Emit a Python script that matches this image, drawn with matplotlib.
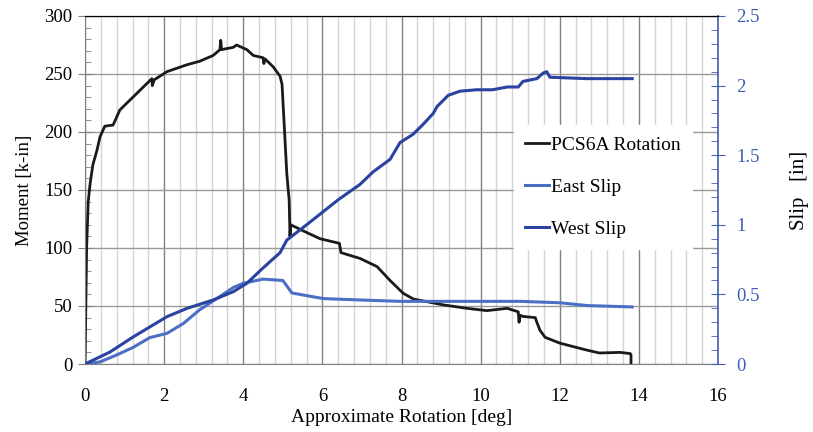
import matplotlib
matplotlib.use("Agg")
import matplotlib.pyplot as plt
from matplotlib.ticker import MultipleLocator, FormatStrFormatter

plt.rcParams['font.family'] = ['Liberation Serif', 'DejaVu Serif']

# PCS6A rotation: moment [k-in] vs rotation [deg]
rot_x = [0, 0.02, 0.04, 0.08, 0.13, 0.2, 0.3, 0.38, 0.5, 0.71, 0.88, 1.21,
         1.57, 1.69, 1.7, 1.75, 2.07, 2.58, 2.9, 3.24, 3.41, 3.43, 3.45,
         3.75, 3.83, 4.09, 4.25, 4.5, 4.52, 4.55, 4.76, 4.93, 4.98, 5.1,
         5.16, 5.18, 5.2, 5.5, 5.94, 6.43, 6.47, 6.95, 7.38, 7.71, 8.04,
         8.3, 9.05, 9.65, 10.16, 10.67, 10.95, 10.97, 11.0, 11.07, 11.38,
         11.42, 11.5, 11.63, 12.0, 12.68, 13.0, 13.52, 13.78, 13.8, 13.8]
moment = [0, 50, 100, 140, 156, 172, 184, 196, 205, 206, 219, 230,
          242, 246, 240, 245, 252, 258, 261, 266, 271, 279, 271,
          273, 275, 271, 266, 264, 259, 263, 256, 248, 241, 164,
          141, 110, 120, 115, 108, 104, 96, 91, 84, 72, 61,
          56, 51, 48, 46, 48, 45, 36, 42, 41, 40,
          36, 29, 23, 18, 12, 9.5, 10, 9, 8, 0]

# East slip [in]
east_x = [0, 0.38, 0.8, 1.22, 1.64, 2.07, 2.48, 2.9, 3.33, 3.75, 4.0, 4.5,
          5.0, 5.23, 6.02, 6.95, 7.96, 9.48, 11.0, 11.5, 12.0, 12.68, 13.83]
east_s = [0, 0.015, 0.065, 0.12, 0.19, 0.22, 0.29, 0.39, 0.47, 0.55, 0.58, 0.61,
          0.60, 0.51, 0.47, 0.46, 0.45, 0.45, 0.45, 0.445, 0.44, 0.42, 0.41]

# West slip [in]
west_x = [0, 0.63, 1.22, 2.07, 2.58, 3.24, 3.75, 4.09, 4.5, 4.93, 5.1, 5.6,
          6.4, 6.95, 7.28, 7.71, 7.96, 8.29, 8.54, 8.8, 8.9, 9.18, 9.48, 9.9,
          10.3, 10.67, 10.95, 11.07, 11.42, 11.58, 11.67, 11.75, 12.68, 13.83]
west_s = [0, 0.086, 0.195, 0.34, 0.40, 0.46, 0.52, 0.58, 0.69, 0.80, 0.89, 1.0,
          1.18, 1.29, 1.38, 1.47, 1.59, 1.65, 1.72, 1.80, 1.85, 1.93, 1.96, 1.97,
          1.97, 1.99, 1.99, 2.03, 2.05, 2.09, 2.10, 2.06, 2.05, 2.05]

blue_axis = '#3f5fb5'
east_col = '#4a6fc4'
west_col = '#2a42a0'

fig = plt.figure(figsize=(8.13, 4.32), dpi=100)
ax = fig.add_axes([0.1046, 0.1574, 0.7786, 0.8056])
ax2 = ax.twinx()

ax.set_xlim(0, 16)
ax.set_ylim(0, 300)
ax2.set_ylim(0, 2.5)

# grid
ax.xaxis.set_major_locator(MultipleLocator(2))
ax.xaxis.set_minor_locator(MultipleLocator(0.4))
ax.yaxis.set_major_locator(MultipleLocator(50))
ax.yaxis.set_minor_locator(MultipleLocator(10))
ax2.yaxis.set_major_locator(MultipleLocator(0.5))
ax2.yaxis.set_minor_locator(MultipleLocator(0.1))
ax2.yaxis.set_major_formatter(FormatStrFormatter('%g'))
ax.grid(which='minor', axis='x', color='#d4d4d4', lw=1.0)
ax.grid(which='major', axis='x', color='#808080', lw=1.0)
ax.grid(which='major', axis='y', color='#999999', lw=1.0)
ax.set_axisbelow(True)

l0, = ax.plot(rot_x, moment, color='#1a1a1a', lw=2.0, label='PCS6A Rotation')
l1, = ax2.plot(east_x, east_s, color=east_col, lw=2.2, label='East Slip')
l2, = ax2.plot(west_x, west_s, color=west_col, lw=2.2, label='West Slip')

# spines
for s in ['left', 'bottom']:
    ax.spines[s].set_color('#808080')
    ax2.spines[s].set_visible(False)
ax.spines['top'].set_color('black')
ax2.spines['top'].set_color('black')
ax.spines['right'].set_visible(False)
ax2.spines['right'].set_color(blue_axis)
ax2.spines['right'].set_linewidth(1.2)

ax.tick_params(axis='x', which='both', length=0, labelsize=13.5, pad=17)
ax.tick_params(axis='y', which='major', direction='inout', length=10, color='#808080',
               labelsize=13.5, pad=4)
ax.tick_params(axis='y', which='minor', direction='in', length=4, color='#808080')
ax2.tick_params(axis='y', which='major', direction='inout', length=10, color=blue_axis,
                labelcolor=blue_axis, labelsize=13.5, pad=8)
ax2.tick_params(axis='y', which='minor', direction='in', length=5, color=blue_axis)

ax.set_xlabel('Approximate Rotation [deg]', fontsize=14, labelpad=3)
ax.set_ylabel('Moment [k-in]', fontsize=13.5, labelpad=8)
ax2.set_ylabel('Slip   [in]', fontsize=15, labelpad=22)

leg = ax2.legend([l0, l1, l2], ['PCS6A Rotation', 'East Slip', 'West Slip'],
                 loc='upper left', bbox_to_anchor=(0.662, 0.716), fontsize=14,
                 frameon=True, fancybox=False, edgecolor='white', facecolor='white',
                 framealpha=1, handlelength=1.2, handletextpad=0.1,
                 labelspacing=1.25, borderpad=0.6)

fig.savefig('out.png', dpi=100)
